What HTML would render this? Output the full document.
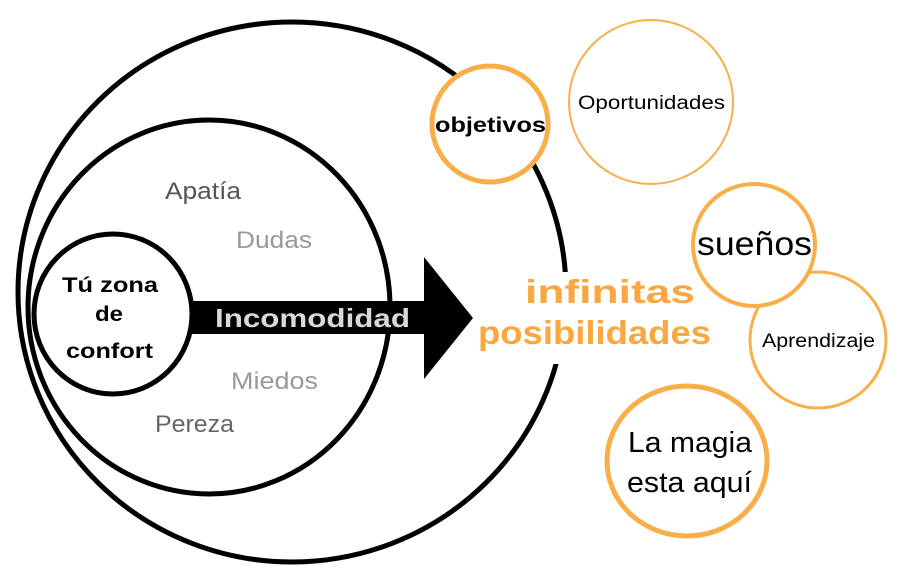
<!DOCTYPE html>
<html><head><meta charset="utf-8"><style>
html,body{margin:0;padding:0;background:#fff;}
svg{display:block;}
text{font-family:"Liberation Sans",sans-serif;}
</style></head><body>
<svg width="901" height="585" viewBox="0 0 901 585" xmlns="http://www.w3.org/2000/svg">
<rect width="901" height="585" fill="#fff"/>
<ellipse cx="292" cy="292" rx="274" ry="270" fill="none" stroke="#000" stroke-width="5"/>
<rect x="470" y="272" width="240" height="92" fill="#fff"/>
<ellipse cx="209" cy="307" rx="181" ry="187" fill="none" stroke="#000" stroke-width="5"/>
<ellipse cx="113" cy="314" rx="79" ry="80" fill="#fff" stroke="#000" stroke-width="5"/>
<polygon points="192,301 424,301 424,257 473,318 424,379 424,334 192,334" fill="#000"/>
<text x="215" y="327" font-size="26" font-weight="bold" fill="#d8d8d8" textLength="195" lengthAdjust="spacingAndGlyphs">Incomodidad</text>
<text x="62" y="292" font-size="21" font-weight="bold" textLength="96" lengthAdjust="spacingAndGlyphs">Tú zona</text>
<text x="95" y="321" font-size="21" font-weight="bold" textLength="28" lengthAdjust="spacingAndGlyphs">de</text>
<text x="66" y="358" font-size="21" font-weight="bold" textLength="87" lengthAdjust="spacingAndGlyphs">confort</text>
<text x="165" y="199" font-size="24" fill="#555" textLength="76" lengthAdjust="spacingAndGlyphs">Apatía</text>
<text x="236" y="248" font-size="24" fill="#999" textLength="76" lengthAdjust="spacingAndGlyphs">Dudas</text>
<text x="231" y="389" font-size="24" fill="#999" textLength="87" lengthAdjust="spacingAndGlyphs">Miedos</text>
<text x="155" y="432" font-size="24" fill="#666" textLength="79" lengthAdjust="spacingAndGlyphs">Pereza</text>
<text x="525" y="303" font-size="33" font-weight="bold" fill="#f9a73e" textLength="170" lengthAdjust="spacingAndGlyphs">infinitas</text>
<text x="478" y="344" font-size="33" font-weight="bold" fill="#f9a73e" textLength="233" lengthAdjust="spacingAndGlyphs">posibilidades</text>
<circle cx="490" cy="124" r="58" fill="#fff" stroke="#f9ae4a" stroke-width="5"/>
<text x="435" y="132" font-size="21" font-weight="bold" textLength="111" lengthAdjust="spacingAndGlyphs">objetivos</text>
<ellipse cx="651" cy="102" rx="82" ry="82" fill="none" stroke="#f9ae4a" stroke-width="2"/>
<text x="578" y="109" font-size="19" textLength="147" lengthAdjust="spacingAndGlyphs">Oportunidades</text>
<circle cx="818" cy="340" r="68" fill="#fff" stroke="#f9ae4a" stroke-width="3"/>
<text x="762" y="347" font-size="19" textLength="113" lengthAdjust="spacingAndGlyphs">Aprendizaje</text>
<circle cx="754" cy="245" r="61" fill="#fff" stroke="#f9ae4a" stroke-width="4"/>
<text x="697" y="255" font-size="33" textLength="115" lengthAdjust="spacingAndGlyphs">sueños</text>
<ellipse cx="687" cy="461" rx="80" ry="75" fill="none" stroke="#f9ae4a" stroke-width="5"/>
<text x="628" y="452" font-size="29" textLength="124" lengthAdjust="spacingAndGlyphs">La magia</text>
<text x="627" y="492" font-size="29" textLength="125" lengthAdjust="spacingAndGlyphs">esta aquí</text>
</svg>
</body></html>
